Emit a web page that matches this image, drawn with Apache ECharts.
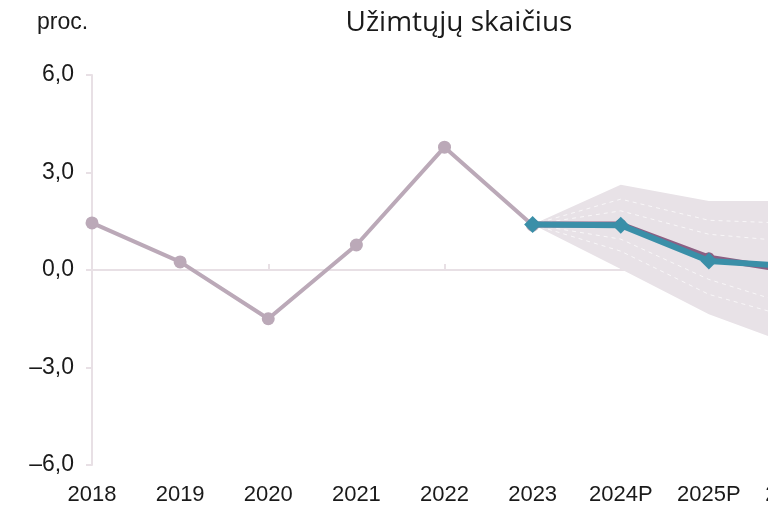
<!DOCTYPE html>
<html>
<head>
<meta charset="utf-8">
<script src="https://cdn.jsdelivr.net/npm/echarts@6/dist/echarts.min.js"></script>
<style>
  html, body { margin: 0; padding: 0; background: #fff; }
  #chart { width: 768px; height: 512px; }
</style>
</head>
<body>
<div id="chart"></div>
<script>
// kategorijos ir duomenys
const years = ["2018", "2019", "2020", "2021", "2022", "2023", "2024P", "2025P", "2026P"];
const history = [1.45, 0.25, -1.5, 0.77, 3.78, 1.38, null, null, null];
const forecastNew = [null, null, null, null, null, 1.4, 1.38, 0.28, 0.1];
const forecastOld = [null, null, null, null, null, 1.4, 1.4, 0.38, -0.05];
// rizikos intervalai (vėduoklė)
const fanUpper = [null, null, null, null, null, 1.4, 2.62, 2.12, 2.12];
const fanUp2 = [null, null, null, null, null, 1.4, 2.18, 1.53, 1.43];
const fanUp1 = [null, null, null, null, null, 1.4, 1.82, 1.1, 0.86];
const fanLo1 = [null, null, null, null, null, 1.4, 0.95, -0.29, -1.13];
const fanLo2 = [null, null, null, null, null, 1.4, 0.58, -0.75, -1.51];
const fanLower = [null, null, null, null, null, 1.4, 0.03, -1.36, -2.36];
const yTicks = [-6, -3, 0, 3, 6];

const chart = echarts.init(document.getElementById("chart"));

const fmt = (v) => v.toFixed(1).replace(".", ",").replace("-", "\u2013");
const fanWidth = fanUpper.map((v, i) => (v == null ? null : +(v - fanLower[i]).toFixed(2)));
const dashed = (data) => ({
  type: "line",
  data: data,
  symbol: "none",
  silent: true,
  lineStyle: { color: "#ffffff", width: 1, type: [4, 4], opacity: 0.7 },
  z: 2,
});

const options = {
  animation: false,
  // grafikas tęsiasi už dešiniojo krašto
  grid: { left: 92, top: 75, width: 705, height: 390, outerBoundsMode: "none" },
  graphic: [
    {
      type: "text",
      left: 37,
      top: 11,
      style: { text: "proc.", font: '23px "Liberation Sans", Arial', fill: "#1a1a1a" },
    },
    {
      type: "text",
      x: 459,
      y: 23,
      style: {
        text: "Užimtųjų skaičius",
        font: '28px "Open Sans"',
        fill: "#1a1a1a",
        textAlign: "center",
        textVerticalAlign: "middle",
      },
    },
  ],
  xAxis: [
    {
      type: "category",
      data: years,
      boundaryGap: false,
      position: "bottom",
      axisLine: { onZero: true, lineStyle: { color: "#e8e0e5", width: 2 } },
      axisTick: { show: true, inside: true, length: 6, interval: 1, lineStyle: { color: "#e8e0e5", width: 2 } },
      axisLabel: { show: false },
      splitLine: { show: false },
    },
    {
      type: "category",
      data: years,
      boundaryGap: false,
      position: "bottom",
      axisLine: { show: false, onZero: false },
      axisTick: { show: false },
      axisLabel: {
        interval: 0,
        hideOverlap: false,
        margin: 19,
        color: "#1a1a1a",
        fontSize: 22,
        fontFamily: '"Liberation Sans", Arial',
      },
    },
  ],
  yAxis: {
    type: "value",
    min: yTicks[0],
    max: yTicks[yTicks.length - 1],
    interval: 3,
    axisLine: { show: true, lineStyle: { color: "#e8e0e5", width: 2 } },
    axisTick: { show: true, length: 6, lineStyle: { color: "#e8e0e5", width: 2 } },
    axisLabel: {
      margin: 18,
      color: "#1a1a1a",
      fontSize: 23,
      fontFamily: '"Liberation Sans", Arial',
      formatter: fmt,
    },
    splitLine: { show: false },
  },
  series: [
    {
      type: "line",
      data: fanLower,
      stack: "fan",
      stackStrategy: "all",
      symbol: "none",
      silent: true,
      lineStyle: { width: 0, opacity: 0 },
      z: 1,
    },
    {
      type: "line",
      data: fanWidth,
      stack: "fan",
      stackStrategy: "all",
      symbol: "none",
      silent: true,
      lineStyle: { width: 0, opacity: 0 },
      areaStyle: { color: "#e8e2e7", opacity: 1 },
      z: 1,
    },
    dashed(fanUp2),
    dashed(fanUp1),
    dashed(fanLo1),
    dashed(fanLo2),
    {
      type: "line",
      data: history,
      symbol: "circle",
      symbolSize: 13,
      lineStyle: { color: "#bba9b8", width: 4 },
      itemStyle: { color: "#bba9b8" },
      z: 3,
    },
    {
      type: "line",
      data: forecastOld,
      symbol: "circle",
      symbolSize: 11,
      lineStyle: { color: "#8c5f83", width: 6 },
      itemStyle: { color: "#8c5f83" },
      z: 4,
    },
    {
      type: "line",
      data: forecastNew,
      symbol: "diamond",
      symbolSize: 17,
      lineStyle: { color: "#3a8fa8", width: 6 },
      itemStyle: { color: "#3a8fa8" },
      z: 5,
    },
  ],
};

chart.setOption(options);
</script>
</body>
</html>
